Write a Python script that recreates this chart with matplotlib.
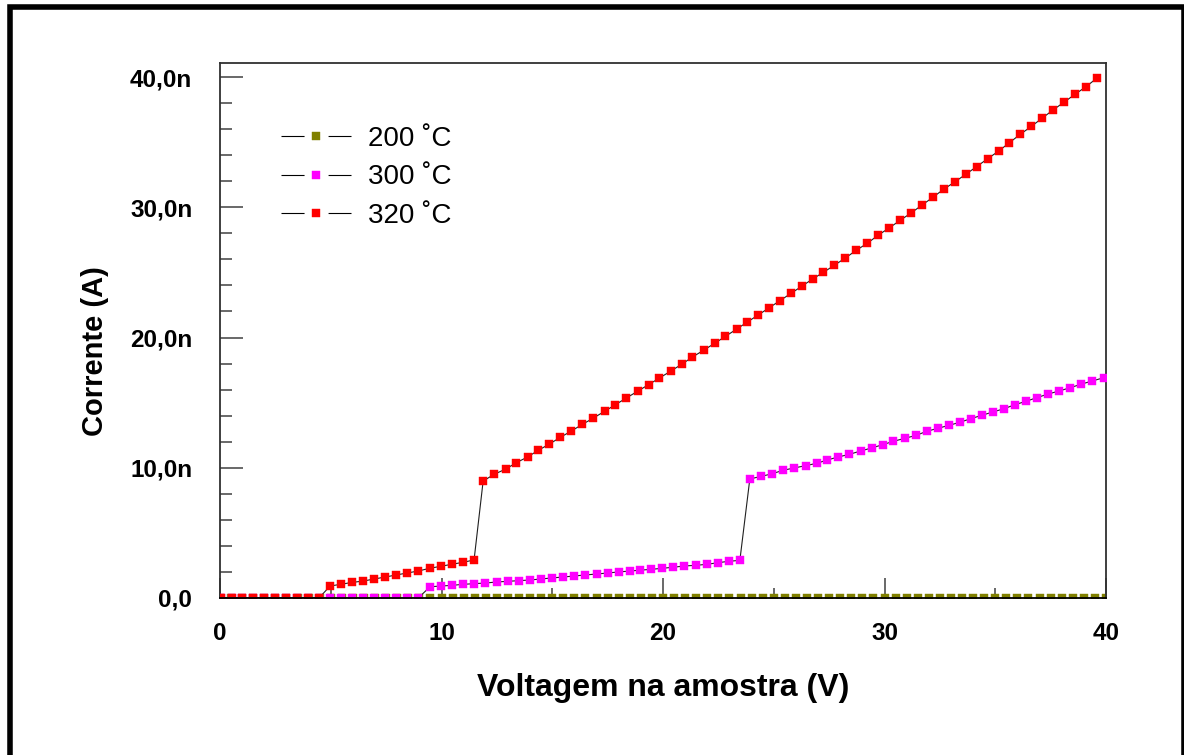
import matplotlib
matplotlib.use("Agg")
import matplotlib.pyplot as plt
from matplotlib.lines import Line2D
from matplotlib.patches import Rectangle
from matplotlib.ticker import FixedLocator

plt.rcParams['font.family'] = ['Liberation Sans', 'DejaVu Sans']

# ---------------- data (current in nA, voltage in V) ----------------
x_200 = [0.0, 0.5, 1.0, 1.5, 2.0, 2.5, 3.0, 3.5, 4.0, 4.5,
         5.0, 5.5, 6.0, 6.5, 7.0, 7.5, 8.0, 8.5, 9.0, 9.5,
         10.0, 10.5, 11.0, 11.5, 12.0, 12.5, 13.0, 13.5, 14.0, 14.5,
         15.0, 15.5, 16.0, 16.5, 17.0, 17.5, 18.0, 18.5, 19.0, 19.5,
         20.0, 20.5, 21.0, 21.5, 22.0, 22.5, 23.0, 23.5, 24.0, 24.5,
         25.0, 25.5, 26.0, 26.5, 27.0, 27.5, 28.0, 28.5, 29.0, 29.5,
         30.0, 30.5, 31.0, 31.5, 32.0, 32.5, 33.0, 33.5, 34.0, 34.5,
         35.0, 35.5, 36.0, 36.5, 37.0, 37.5, 38.0, 38.5, 39.0, 39.5,
         40.0]
y_200 = [0.0, 0.0, 0.0, 0.0, 0.0, 0.0, 0.0, 0.0, 0.0, 0.0,
         0.0, 0.0, 0.0, 0.0, 0.0, 0.0, 0.0, 0.0, 0.0, 0.0,
         0.0, 0.0, 0.0, 0.0, 0.0, 0.0, 0.0, 0.0, 0.0, 0.0,
         0.0, 0.0, 0.0, 0.0, 0.0, 0.0, 0.0, 0.0, 0.0, 0.0,
         0.0, 0.0, 0.0, 0.0, 0.0, 0.0, 0.0, 0.0, 0.0, 0.0,
         0.0, 0.0, 0.0, 0.0, 0.0, 0.0, 0.0, 0.0, 0.0, 0.0,
         0.0, 0.0, 0.0, 0.0, 0.0, 0.0, 0.0, 0.0, 0.0, 0.0,
         0.0, 0.0, 0.0, 0.0, 0.0, 0.0, 0.0, 0.0, 0.0, 0.0,
         0.0]

x_300 = [0.05, 0.55, 1.0, 1.5, 1.98, 2.48, 2.98, 3.47, 3.97, 4.47,
         4.97, 5.45, 5.97, 6.47, 6.96, 7.46, 7.96, 8.45, 8.95,
         9.48, 9.97, 10.47, 10.97, 11.48, 11.98, 12.5, 12.98, 13.48, 13.98,
         14.49, 14.99, 15.49, 16.0, 16.5, 17.0, 17.5, 18.0, 18.5, 18.98,
         19.47, 19.96, 20.46, 20.97, 21.5, 22.0, 22.48, 22.98, 23.47,
         23.92, 24.44, 24.93, 25.41, 25.91, 26.44, 26.94, 27.42, 27.92, 28.41,
         28.93, 29.42, 29.92, 30.4, 30.92, 31.43, 31.91, 32.41, 32.92, 33.4,
         33.9, 34.4, 34.89, 35.39, 35.89, 36.38, 36.88, 37.38, 37.88, 38.39,
         38.87, 39.37, 39.9]
y_300 = [0.0, 0.0, 0.0, 0.0, 0.0, 0.0, 0.0, 0.0, 0.0, 0.0,
         0.0, 0.0, 0.0, 0.0, 0.0, 0.0, 0.0, 0.0, 0.0,
         0.86, 0.92, 0.97, 1.05, 1.10, 1.15, 1.23, 1.28, 1.33, 1.38,
         1.46, 1.54, 1.61, 1.69, 1.77, 1.84, 1.92, 2.00, 2.07, 2.14,
         2.20, 2.28, 2.36, 2.46, 2.51, 2.59, 2.71, 2.82, 2.89,
         9.14, 9.34, 9.54, 9.80, 9.98, 10.16, 10.34, 10.60, 10.83, 11.03,
         11.29, 11.52, 11.77, 12.03, 12.26, 12.49, 12.80, 13.03, 13.26, 13.49,
         13.77, 14.03, 14.28, 14.53, 14.84, 15.10, 15.38, 15.66, 15.89, 16.15,
         16.41, 16.66, 16.91]

x_320 = [0.05, 0.55, 1.0, 1.5, 1.98, 2.48, 2.98, 3.47, 3.97, 4.47,
         4.97, 5.45, 5.97, 6.47, 6.96, 7.46, 7.96, 8.45, 8.95, 9.46,
         9.96, 10.47, 10.97, 11.47,
         11.88, 12.38, 12.9, 13.38, 13.89, 14.37, 14.87, 15.37, 15.86, 16.36,
         16.86, 17.36, 17.85, 18.35, 18.85, 19.35, 19.84, 20.34, 20.84, 21.33,
         21.83, 22.33, 22.82, 23.32, 23.81, 24.31, 24.80, 25.29, 25.78, 26.27,
         26.76, 27.24, 27.73, 28.23, 28.72, 29.22, 29.71, 30.21, 30.71, 31.2,
         31.68, 32.18, 32.67, 33.17, 33.67, 34.16, 34.66, 35.16, 35.64, 36.13,
         36.63, 37.11, 37.61, 38.1, 38.6, 39.1, 39.58]
y_320 = [0.0, 0.0, 0.0, 0.0, 0.0, 0.0, 0.0, 0.0, 0.0, 0.0,
         0.92, 1.05, 1.20, 1.30, 1.46, 1.61, 1.77, 1.92, 2.07, 2.28,
         2.43, 2.59, 2.74, 2.92,
         8.98, 9.50, 9.90, 10.39, 10.83, 11.34, 11.82, 12.34, 12.82, 13.33,
         13.82, 14.33, 14.84, 15.36, 15.87, 16.38, 16.89, 17.41, 17.94, 18.50,
         19.02, 19.55, 20.09, 20.64, 21.19, 21.74, 22.29, 22.84, 23.39, 23.94,
         24.50, 25.00, 25.54, 26.10, 26.69, 27.23, 27.85, 28.41, 29.00, 29.56,
         30.15, 30.76, 31.38, 31.94, 32.53, 33.12, 33.73, 34.32, 34.96, 35.60,
         36.21, 36.83, 37.47, 38.06, 38.67, 39.26, 39.90]

series_labels = ['200 ˚C', '300 ˚C', '320 ˚C']
series_colors = ['#808000', '#FF00FF', '#FF0000']

x_major = [0, 10, 20, 30, 40]
x_minor = [5, 15, 25, 35]
x_ticklabels = ['0', '10', '20', '30', '40']
y_major = [0, 10, 20, 30, 40]
y_minor = [2, 4, 6, 8, 12, 14, 16, 18, 22, 24, 26, 28, 32, 34, 36, 38]
y_ticklabels = ['0,0', '10,0n', '20,0n', '30,0n', '40,0n']

# ---------------- figure ----------------
fig = plt.figure(figsize=(11.84, 7.55), dpi=100)
ax = fig.add_axes([220 / 1184, 1 - 598 / 755, 886 / 1184, 535 / 755])

xs = [x_200, x_300, x_320]
ys = [y_200, y_300, y_320]
for i, (xx, yy) in enumerate(zip(xs, ys)):
    c = series_colors[i]
    ax.plot(xx, yy, color='#202020', lw=0.8, marker='s', ms=5.6,
            mfc=c, mec=c, mew=0.3, zorder=2 + i)

ax.set_xlim(0, 40)
ax.set_ylim(0, 40 + 14 / 13.025)

ax.xaxis.set_major_locator(FixedLocator(x_major))
ax.xaxis.set_minor_locator(FixedLocator(x_minor))
ax.yaxis.set_major_locator(FixedLocator(y_major))
ax.yaxis.set_minor_locator(FixedLocator(y_minor))
ax.set_xticklabels(x_ticklabels, fontsize=17.5, fontweight='bold')
ax.set_yticklabels(y_ticklabels, fontsize=17.5, fontweight='bold')

ax.tick_params(axis='x', which='major', direction='in', length=14.5, width=1.1,
               color='#404040', pad=17, top=False)
ax.tick_params(axis='x', which='minor', direction='in', length=7.5, width=1.1,
               color='#404040', top=False)
ax.tick_params(axis='y', which='major', direction='in', length=16.5, width=1.1,
               color='#404040', pad=20, right=False)
ax.tick_params(axis='y', which='minor', direction='in', length=8.6, width=1.1,
               color='#404040', right=False)

for s in ax.spines.values():
    s.set_color('#303030')
    s.set_linewidth(1.3)
ax.spines['bottom'].set_color('black')
ax.spines['bottom'].set_zorder(10)

ax.set_xlabel('Voltagem na amostra (V)', fontsize=23, fontweight='bold')
ax.xaxis.label.set_va('center')
ax.xaxis.set_label_coords(0.5, (598 - 688) / 535)
ax.set_ylabel('Corrente (A)', fontsize=21, fontweight='bold')
ax.yaxis.label.set_va('center')
ax.yaxis.set_label_coords((95 - 220) / 886, (598 - 351) / 535)

# legend
handles = []
for i, lab in enumerate(series_labels):
    c = series_colors[i]
    handles.append(Line2D([], [], color='black', lw=0.8, marker='s', ms=5.6,
                          mfc=c, mec=c, mew=0.3,
                          dashes=(16.6 / 0.8, 17.3 / 0.8), label=lab))
leg = ax.legend(handles=handles, loc='upper left',
                bbox_to_anchor=((281 - 220) / 886, (598 - 126) / 535),
                frameon=False, fontsize=20, handlelength=2.52,
                handletextpad=0.6, labelspacing=0.45, borderpad=0,
                borderaxespad=0, numpoints=1)

# outer frame
fig.add_artist(Rectangle((9.5 / 1184, -0.02), (1183.5 - 9.5) / 1184, 1.02 - 7 / 755,
                         transform=fig.transFigure, fill=False,
                         edgecolor='black', lw=4))

fig.savefig('out.png', dpi=100)
